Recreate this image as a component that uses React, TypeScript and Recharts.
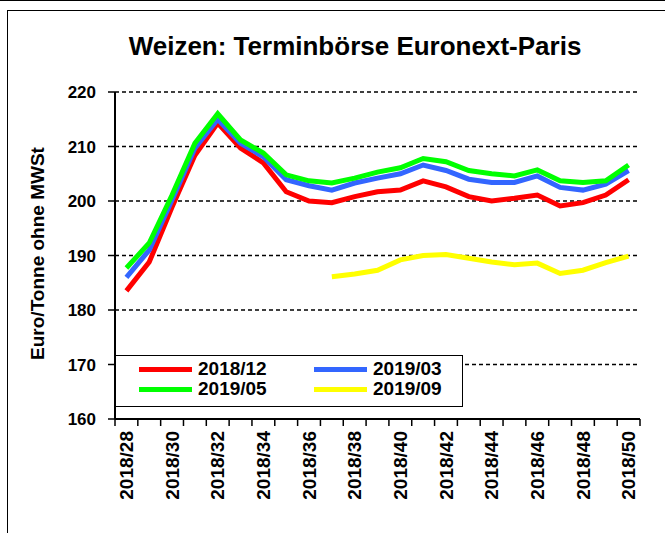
import React from "react";
import {
  CartesianGrid,
  ComposedChart,
  Legend,
  Line,
  XAxis,
  YAxis,
} from "recharts";

const weeks = [
  "2018/28", "2018/29", "2018/30", "2018/31", "2018/32", "2018/33", "2018/34", "2018/35",
  "2018/36", "2018/37", "2018/38", "2018/39", "2018/40", "2018/41", "2018/42", "2018/43",
  "2018/44", "2018/45", "2018/46", "2018/47", "2018/48", "2018/49", "2018/50",
];

const dec2018 = [
  183.5, 188.8, 198.9, 208.4, 214.3, 209.7, 207.0, 201.7, 200.0, 199.7, 200.8, 201.7,
  202.0, 203.7, 202.6, 200.8, 200.0, 200.5, 201.1, 199.1, 199.7, 201.1, 203.9,
];
const mar2019 = [
  186.0, 191.0, 200.2, 209.7, 215.0, 210.6, 208.1, 203.9, 202.8, 202.0, 203.3, 204.2,
  205.0, 206.6, 205.6, 204.0, 203.4, 203.4, 204.6, 202.5, 202.0, 203.1, 205.6,
];
const may2019 = [
  187.7, 192.3, 201.1, 210.6, 216.0, 211.2, 208.8, 204.8, 203.7, 203.3, 204.2, 205.3,
  206.1, 207.8, 207.2, 205.6, 205.0, 204.6, 205.7, 203.7, 203.4, 203.7, 206.6,
];
const sep2019 = [
  null, null, null, null, null, null, null, null, null, 186.1, 186.6, 187.3,
  189.2, 190.0, 190.2, 189.5, 188.8, 188.3, 188.6, 186.7, 187.3, 188.7, 189.9,
];

const yTicks = [160, 170, 180, 190, 200, 210, 220];

const series = [
  { key: "dec2018", name: "2018/12", color: "#FF0000" },
  { key: "mar2019", name: "2019/03", color: "#3366FF" },
  { key: "may2019", name: "2019/05", color: "#00FF00" },
  { key: "sep2019", name: "2019/09", color: "#FFFF00" },
];

const data = weeks.map((w, i) => ({
  week: w,
  dec2018: dec2018[i],
  mar2019: mar2019[i],
  may2019: may2019[i],
  sep2019: sep2019[i],
}));

const W = 665;
const H = 533;
const margin = { top: 92, right: 25, bottom: 0, left: 0 };
const xAxisH = 114;
const yAxisW = 115;
const plotW = W - margin.left - margin.right - yAxisW;
const band = plotW / weeks.length;
const font = "'Liberation Sans', Arial, sans-serif";

const XTick = (props: any) => {
  const { x, y, payload, index } = props;
  const isLast = index === weeks.length - 1;
  return (
    <g>
      <line x1={x - band / 2} x2={x - band / 2} y1={y} y2={y + 7} stroke="#000" strokeWidth={1.5} />
      {isLast && (
        <line x1={x + band / 2} x2={x + band / 2} y1={y} y2={y + 7} stroke="#000" strokeWidth={1.5} />
      )}
      {index % 2 === 0 && (
        <text
          x={x}
          y={y + 12}
          transform={`rotate(-90 ${x} ${y + 12})`}
          textAnchor="end"
          dy="0.35em"
          fontFamily={font}
          fontWeight="bold"
          fontSize={19}
          fill="#000"
        >
          {payload.value}
        </text>
      )}
    </g>
  );
};

const renderLegend = (props: any) => {
  const { payload } = props;
  return (
    <div
      style={{
        width: 348,
        height: 52,
        boxSizing: "border-box",
        border: "1.5px solid #000",
        background: "#fff",
        display: "grid",
        gridTemplateColumns: "175px 150px",
        gridTemplateRows: "20px 20px",
        paddingTop: 3,
        paddingLeft: 23,
        fontFamily: font,
        fontWeight: "bold",
        fontSize: 19,
        color: "#000",
      }}
    >
      {payload.map((p: any) => (
        <div key={p.value} style={{ display: "flex", alignItems: "center", height: 20, lineHeight: "20px" }}>
          <span style={{ display: "inline-block", width: 53, height: 5, background: p.color, marginRight: 6 }} />
          <span>{p.value}</span>
        </div>
      ))}
    </div>
  );
};

const YLabel = (props: any) => {
  const { viewBox } = props;
  const cx = viewBox.x + 37;
  const cy = viewBox.y + viewBox.height / 2 - 2;
  return (
    <text
      x={cx}
      y={cy}
      transform={`rotate(-90 ${cx} ${cy})`}
      textAnchor="middle"
      dy="0.35em"
      fontFamily={font}
      fontWeight="bold"
      fontSize={19}
      fill="#000"
    >
      Euro/Tonne ohne MWSt
    </text>
  );
};

export default function App() {
  return (
    <div style={{ position: "absolute", left: 0, top: 0, width: W, height: H, background: "#fff" }}>
      <div style={{ position: "absolute", left: 0, top: 0, width: W, height: 0, borderTop: "1.5px solid #000" }} />
      <div
        style={{
          position: "absolute",
          left: 7,
          top: 10,
          width: W - 7,
          height: H - 10,
          borderTop: "1.5px solid #000",
          borderLeft: "1.5px solid #000",
          boxSizing: "border-box",
        }}
      />
      <div
        style={{
          position: "absolute",
          left: 0,
          top: 31,
          width: 710,
          textAlign: "center",
          fontFamily: font,
          fontWeight: "bold",
          fontSize: 26,
          color: "#000",
        }}
      >
        Weizen: Terminbörse Euronext-Paris
      </div>
      <ComposedChart width={W} height={H} data={data} margin={margin} style={{ position: "absolute", left: 0, top: 0 }}>
        <CartesianGrid
          yAxisId="left"
          vertical={false}
          stroke="#000"
          strokeWidth={1.5}
          strokeDasharray="4 3"
        />
        <XAxis
          dataKey="week"
          scale="band"
          interval={0}
          tickLine={false}
          tickSize={0}
          tickMargin={0}
          axisLine={{ stroke: "#000", strokeWidth: 2 }}
          tick={<XTick />}
          height={xAxisH}
        />
        <YAxis
          yAxisId="left"
          width={yAxisW}
          domain={[160, 220]}
          ticks={yTicks}
          interval={0}
          allowDataOverflow
          tickSize={7}
          tickMargin={12}
          axisLine={{ stroke: "#000", strokeWidth: 2 }}
          tickLine={{ stroke: "#000", strokeWidth: 1.5 }}
          tick={{ fill: "#000", fontFamily: font, fontWeight: "bold", fontSize: 17 }}
          label={<YLabel />}
        />
        <YAxis
          yAxisId="right"
          orientation="right"
          width={0}
          domain={[160, 220]}
          tick={false}
          tickLine={false}
          axisLine={{ stroke: "#000", strokeWidth: 1.5 }}
        />
        {series.map((s) => (
          <Line
            key={s.key}
            yAxisId="left"
            type="linear"
            dataKey={s.key}
            name={s.name}
            stroke={s.color}
            strokeWidth={5}
            dot={false}
            activeDot={false}
            isAnimationActive={false}
          />
        ))}
        <Legend
          layout="horizontal"
          verticalAlign="middle"
          content={renderLegend}
          wrapperStyle={{ position: "absolute", left: 115, top: 355, width: 348, height: 52 }}
        />
      </ComposedChart>
    </div>
  );
}
